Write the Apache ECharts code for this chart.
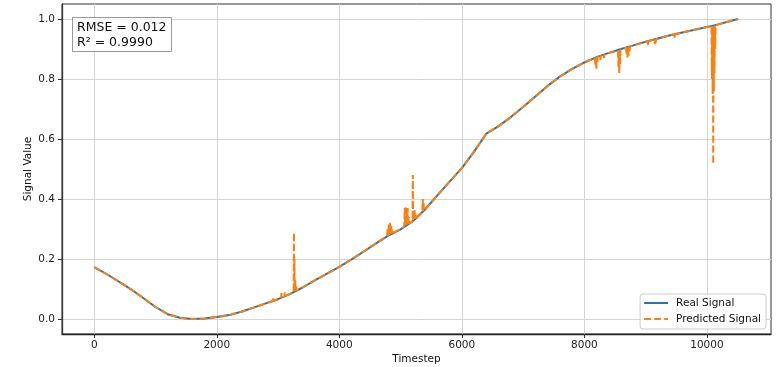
<!DOCTYPE html>
<html>
<head>
<meta charset="utf-8">
<script src="https://cdn.jsdelivr.net/npm/echarts@6/dist/echarts.min.js"></script>
<style>
  html, body { margin: 0; padding: 0; background: #fff; }
  #chart { width: 776px; height: 367px; }
</style>
</head>
<body>
<div id="chart"></div>
<script>
// Sampled real signal (normalised)
const timesteps = [0, 200, 400, 600, 800, 1000, 1200, 1400, 1600, 1800, 2000, 2200, 2400, 2600, 2800,
  3000, 3200, 3400, 3600, 3800, 4000, 4200, 4400, 4600, 4800, 5000, 5200, 5400, 5600, 5800,
  6000, 6200, 6400, 6600, 6800, 7000, 7200, 7400, 7600, 7800, 8000, 8200, 8400, 8600, 8800,
  9000, 9200, 9400, 9600, 9800, 10000, 10200, 10400, 10510];
const realSignal = [0.173, 0.150, 0.125, 0.099, 0.070, 0.040, 0.016, 0.004, 0.000, 0.002, 0.007, 0.013, 0.024, 0.038, 0.052,
  0.066, 0.084, 0.105, 0.129, 0.151, 0.174, 0.199, 0.225, 0.252, 0.278, 0.299, 0.326, 0.365, 0.412, 0.458,
  0.503, 0.558, 0.618, 0.643, 0.673, 0.707, 0.742, 0.777, 0.808, 0.834, 0.855, 0.873, 0.887, 0.900, 0.912,
  0.924, 0.935, 0.946, 0.955, 0.964, 0.973, 0.983, 0.994, 1.000];

// Where the prediction departs from the real signal: [timestep, value]
const predictedSpikes = [
  [2915, 0.060], [2920, 0.072], [2925, 0.061],
  [3050, 0.071], [3056, 0.086], [3062, 0.072],
  [3104, 0.076], [3110, 0.089], [3116, 0.077],
  [3255, 0.089], [3260, 0.288], [3265, 0.090], [3268, 0.200], [3272, 0.092], [3276, 0.130],
  [3280, 0.093], [3285, 0.125], [3290, 0.094], [3295, 0.110], [3300, 0.095],
  [4780, 0.277], [4790, 0.300], [4800, 0.279], [4810, 0.315], [4820, 0.281], [4830, 0.321],
  [4840, 0.283], [4850, 0.310], [4860, 0.285], [4870, 0.295], [4880, 0.287],
  [5060, 0.309], [5068, 0.370], [5076, 0.311], [5084, 0.376], [5092, 0.312], [5100, 0.360],
  [5108, 0.314], [5116, 0.370], [5124, 0.316], [5132, 0.340], [5140, 0.318],
  [5195, 0.325], [5200, 0.480], [5205, 0.326], [5212, 0.360], [5220, 0.329], [5228, 0.365],
  [5236, 0.332], [5244, 0.350], [5252, 0.335],
  [5355, 0.356], [5362, 0.400], [5369, 0.359], [5376, 0.385], [5383, 0.362],
  [8170, 0.870], [8180, 0.845], [8190, 0.872], [8196, 0.830], [8202, 0.873], [8210, 0.850], [8218, 0.874],
  [8255, 0.877], [8262, 0.864], [8269, 0.878],
  [8315, 0.881], [8322, 0.870], [8329, 0.882],
  [8550, 0.894], [8557, 0.840], [8564, 0.895], [8570, 0.820], [8576, 0.896], [8583, 0.850], [8590, 0.897],
  [8680, 0.904], [8690, 0.880], [8698, 0.905], [8706, 0.872], [8714, 0.906], [8722, 0.878],
  [8730, 0.907], [8738, 0.890], [8746, 0.908],
  [9035, 0.926], [9042, 0.912], [9049, 0.927],
  [9143, 0.931], [9150, 0.916], [9157, 0.932], [9164, 0.920], [9171, 0.933],
  [9470, 0.949], [9476, 0.936], [9482, 0.950],
  [10075, 0.976], [10082, 0.800], [10088, 0.976], [10093, 0.750], [10098, 0.977], [10103, 0.516],
  [10108, 0.977], [10113, 0.760], [10118, 0.978], [10124, 0.820], [10130, 0.978], [10136, 0.900], [10142, 0.979]
];

const xTicks = [0, 2000, 4000, 6000, 8000, 10000];
const yTicks = [0.0, 0.2, 0.4, 0.6, 0.8, 1.0];

const realData = timesteps.map((t, i) => [t, realSignal[i]]);
const predictedData = realData.concat(predictedSpikes).sort((a, b) => a[0] - b[0]);

const font = 'DejaVu Sans';
const chart = echarts.init(document.getElementById('chart'), null, { renderer: 'canvas' });

chart.setOption({
  animation: false,
  backgroundColor: '#fff',
  textStyle: { fontFamily: font },
  title: {
    text: 'RMSE = 0.012\nR\u00b2 = 0.9990',
    left: 72,
    top: 17,
    padding: [3, 5, 2, 5],
    borderColor: '#999',
    borderWidth: 1,
    backgroundColor: 'rgba(255,255,255,0.8)',
    textStyle: { fontFamily: font, fontSize: 12.5, fontWeight: 'normal', color: '#111', lineHeight: 15 }
  },
  legend: {
    orient: 'vertical',
    right: 10,
    bottom: 38,
    padding: [3, 5, 4, 3],
    itemGap: 4,
    itemWidth: 24,
    itemHeight: 10,
    itemStyle: { opacity: 0 },
    borderColor: '#ccc',
    borderWidth: 1,
    borderRadius: 3,
    backgroundColor: 'rgba(255,255,255,0.8)',
    textStyle: { fontFamily: font, fontSize: 10.5, color: '#111', lineHeight: 12, padding: [0, 0, 0, 3] },
    data: ['Real Signal', 'Predicted Signal']
  },
  grid: {
    left: 62, right: 5, top: 4, bottom: 33,
    outerBoundsMode: 'none',
    containLabel: false,
    show: true, borderColor: '#333', borderWidth: 1, backgroundColor: 'transparent'
  },
  xAxis: {
    type: 'value',
    min: -526,
    max: 11046,
    name: 'Timestep',
    nameLocation: 'middle',
    nameGap: 20,
    nameMoveOverlap: false,
    nameTextStyle: { fontFamily: font, fontSize: 10.5, color: '#111', verticalAlign: 'top' },
    axisLine: { show: true, onZero: false, lineStyle: { color: '#222', width: 1.3 } },
    axisTick: { show: true, length: 4, customValues: xTicks, lineStyle: { color: '#333' } },
    axisLabel: { customValues: xTicks, margin: 6, fontFamily: font, fontSize: 10.5, color: '#222',
      formatter: v => String(v) },
    splitLine: { show: true, lineStyle: { color: '#d6d6d6', width: 1 } }
  },
  yAxis: {
    type: 'value',
    min: -0.05,
    max: 1.05,
    name: 'Signal Value',
    nameLocation: 'middle',
    nameGap: 28,
    nameMoveOverlap: false,
    nameTextStyle: { fontFamily: font, fontSize: 10.5, color: '#111' },
    axisLine: { show: true, onZero: false, lineStyle: { color: '#333', width: 1.3 } },
    axisTick: { show: true, length: 4, customValues: yTicks, lineStyle: { color: '#333' } },
    axisLabel: { customValues: yTicks, margin: 7, fontFamily: font, fontSize: 10.5, color: '#222',
      formatter: v => v.toFixed(1) },
    splitLine: { show: true, lineStyle: { color: '#d6d6d6', width: 1 } }
  },
  series: [
    {
      name: 'Real Signal',
      type: 'line',
      data: realData,
      showSymbol: false,
      symbol: 'none',
      color: '#1f77b4',
      lineStyle: { color: '#1f77b4', width: 2 },
      z: 2
    },
    {
      name: 'Predicted Signal',
      type: 'line',
      data: predictedData,
      showSymbol: false,
      symbol: 'none',
      color: '#ff7f0e',
      lineStyle: { color: '#ff7f0e', width: 2, type: [7, 3] },
      z: 3
    }
  ]
});
</script>
</body>
</html>
